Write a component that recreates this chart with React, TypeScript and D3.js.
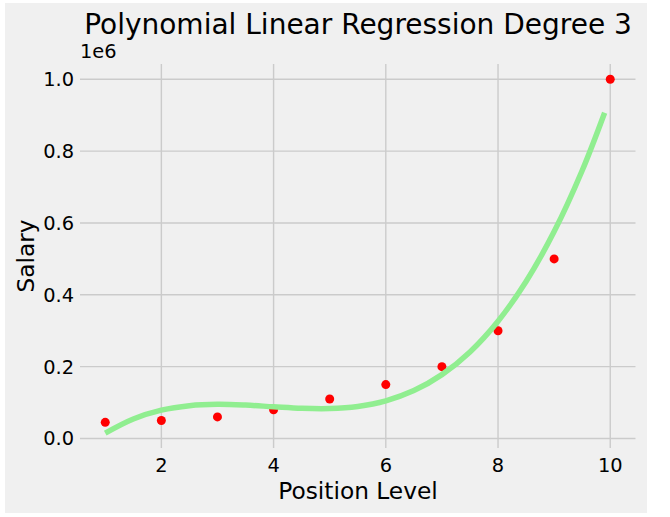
import React from "react";
import * as d3 from "d3";

const levels = [1, 2, 3, 4, 5, 6, 7, 8, 9, 10];
const salaries = [45000, 50000, 60000, 80000, 110000, 150000, 200000, 300000, 500000, 1000000];

const fitX = [1, 1.5, 2, 2.5, 3, 3.5, 4, 4.5, 5, 5.5, 6, 6.5, 7, 7.5, 8, 8.5, 9, 9.5, 9.9];
const fitY = [14900, 54300, 78800, 91300, 95000, 92900, 88300, 84000, 83300, 89300, 104900, 133400, 177800, 241100, 326600, 437200, 576000, 746200, 907100];

const xTicks = [2, 4, 6, 8, 10];
const yTicks = [0, 200000, 400000, 600000, 800000, 1000000];

const W = 670;
const H = 517;
const FONT = "DejaVu Sans";

export default function App() {
  const x = d3.scaleLinear().domain([0.55, 10.45]).range([80, 635.5]);
  const y = d3.scaleLinear().domain([-26500, 1042600]).range([448, 64]);
  const line = d3
    .line<number>()
    .x((_, i) => x(fitX[i]))
    .y((d) => y(d))
    .curve(d3.curveCatmullRom);

  return (
    <svg width={W} height={H} style={{ position: "absolute", left: 0, top: 0 }}>
      <rect x={0} y={0} width={W} height={H} fill="#ffffff" />
      <rect x={5} y={3} width={642} height={510} fill="#f0f0f0" />
      {/* grid */}
      {xTicks.map((t) => (
        <line key={"gx" + t} x1={x(t)} x2={x(t)} y1={64} y2={448} stroke="#cbcbcb" strokeWidth={1.4} />
      ))}
      {yTicks.map((t) => (
        <line key={"gy" + t} x1={80} x2={635.5} y1={y(t)} y2={y(t)} stroke="#cbcbcb" strokeWidth={1.4} />
      ))}
      {/* scatter */}
      {levels.map((l, i) => (
        <circle key={"p" + l} cx={x(l)} cy={y(salaries[i])} r={4.5} fill="#ff0000" />
      ))}
      {/* fit */}
      <path d={line(fitY) || ""} fill="none" stroke="#90ee90" strokeWidth={5.5} />
      {/* tick labels */}
      {xTicks.map((t) => (
        <text key={"tx" + t} x={x(t)} y={472} textAnchor="middle" fontFamily={FONT} fontSize={19.4} fill="#000">
          {t}
        </text>
      ))}
      {yTicks.map((t) => (
        <text key={"ty" + t} x={74} y={y(t)} dy="0.36em" textAnchor="end" fontFamily={FONT} fontSize={19.4} fill="#000">
          {(t / 1e6).toFixed(1)}
        </text>
      ))}
      <text x={80} y={58} fontFamily={FONT} fontSize={19.4} fill="#000">1e6</text>
      {/* axis labels */}
      <text x={358} y={499} textAnchor="middle" fontFamily={FONT} fontSize={23.3} fill="#000">
        Position Level
      </text>
      <text
        transform={`translate(34,256) rotate(-90)`}
        textAnchor="middle"
        fontFamily={FONT}
        fontSize={23.3}
        fill="#000"
      >
        Salary
      </text>
      <text x={358} y={34} textAnchor="middle" fontFamily={FONT} fontSize={28} fill="#000">
        Polynomial Linear Regression Degree 3
      </text>
    </svg>
  );
}
